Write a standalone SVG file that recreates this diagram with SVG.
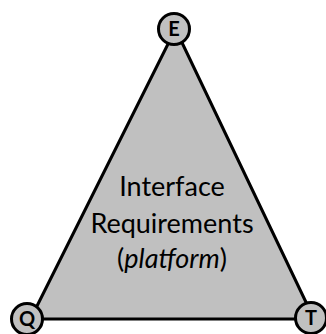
<svg xmlns="http://www.w3.org/2000/svg" width="326" height="334" viewBox="0 0 326 334">
  <style>
    .shape { fill: #c0c0c0; stroke: #000; stroke-width: 3; stroke-linejoin: round; }
    .vtx { fill: #c0c0c0; stroke: #000; stroke-width: 3; }
    .vlabel { font-family: Lato, "Liberation Sans", sans-serif; font-weight: bold; font-size: 20px; text-anchor: middle; fill: #000; }
    .body { font-family: Lato, "Liberation Sans", sans-serif; font-size: 27px; text-anchor: middle; fill: #000; }
  </style>
  <rect width="326" height="334" fill="#fff"/>
  <g id="connectors">
    <polygon class="shape" points="175.5,29 30.5,319 314,319"/>
  </g>
  <g id="node-E">
    <circle class="vtx" cx="174" cy="29" r="15.5"/>
    <text class="vlabel" x="174" y="36">E</text>
  </g>
  <g id="node-Q">
    <circle class="vtx" cx="27" cy="319" r="15.5"/>
    <text class="vlabel" x="27" y="326">Q</text>
  </g>
  <g id="node-T">
    <circle class="vtx" cx="311" cy="318" r="15.5"/>
    <text class="vlabel" x="311" y="325">T</text>
  </g>
  <g id="label">
    <text class="body" x="172" y="196">Interface</text>
    <text class="body" x="172" y="233">Requirements</text>
    <text class="body" x="172" y="268">(<tspan font-style="italic">platform</tspan>)</text>
  </g>
</svg>
